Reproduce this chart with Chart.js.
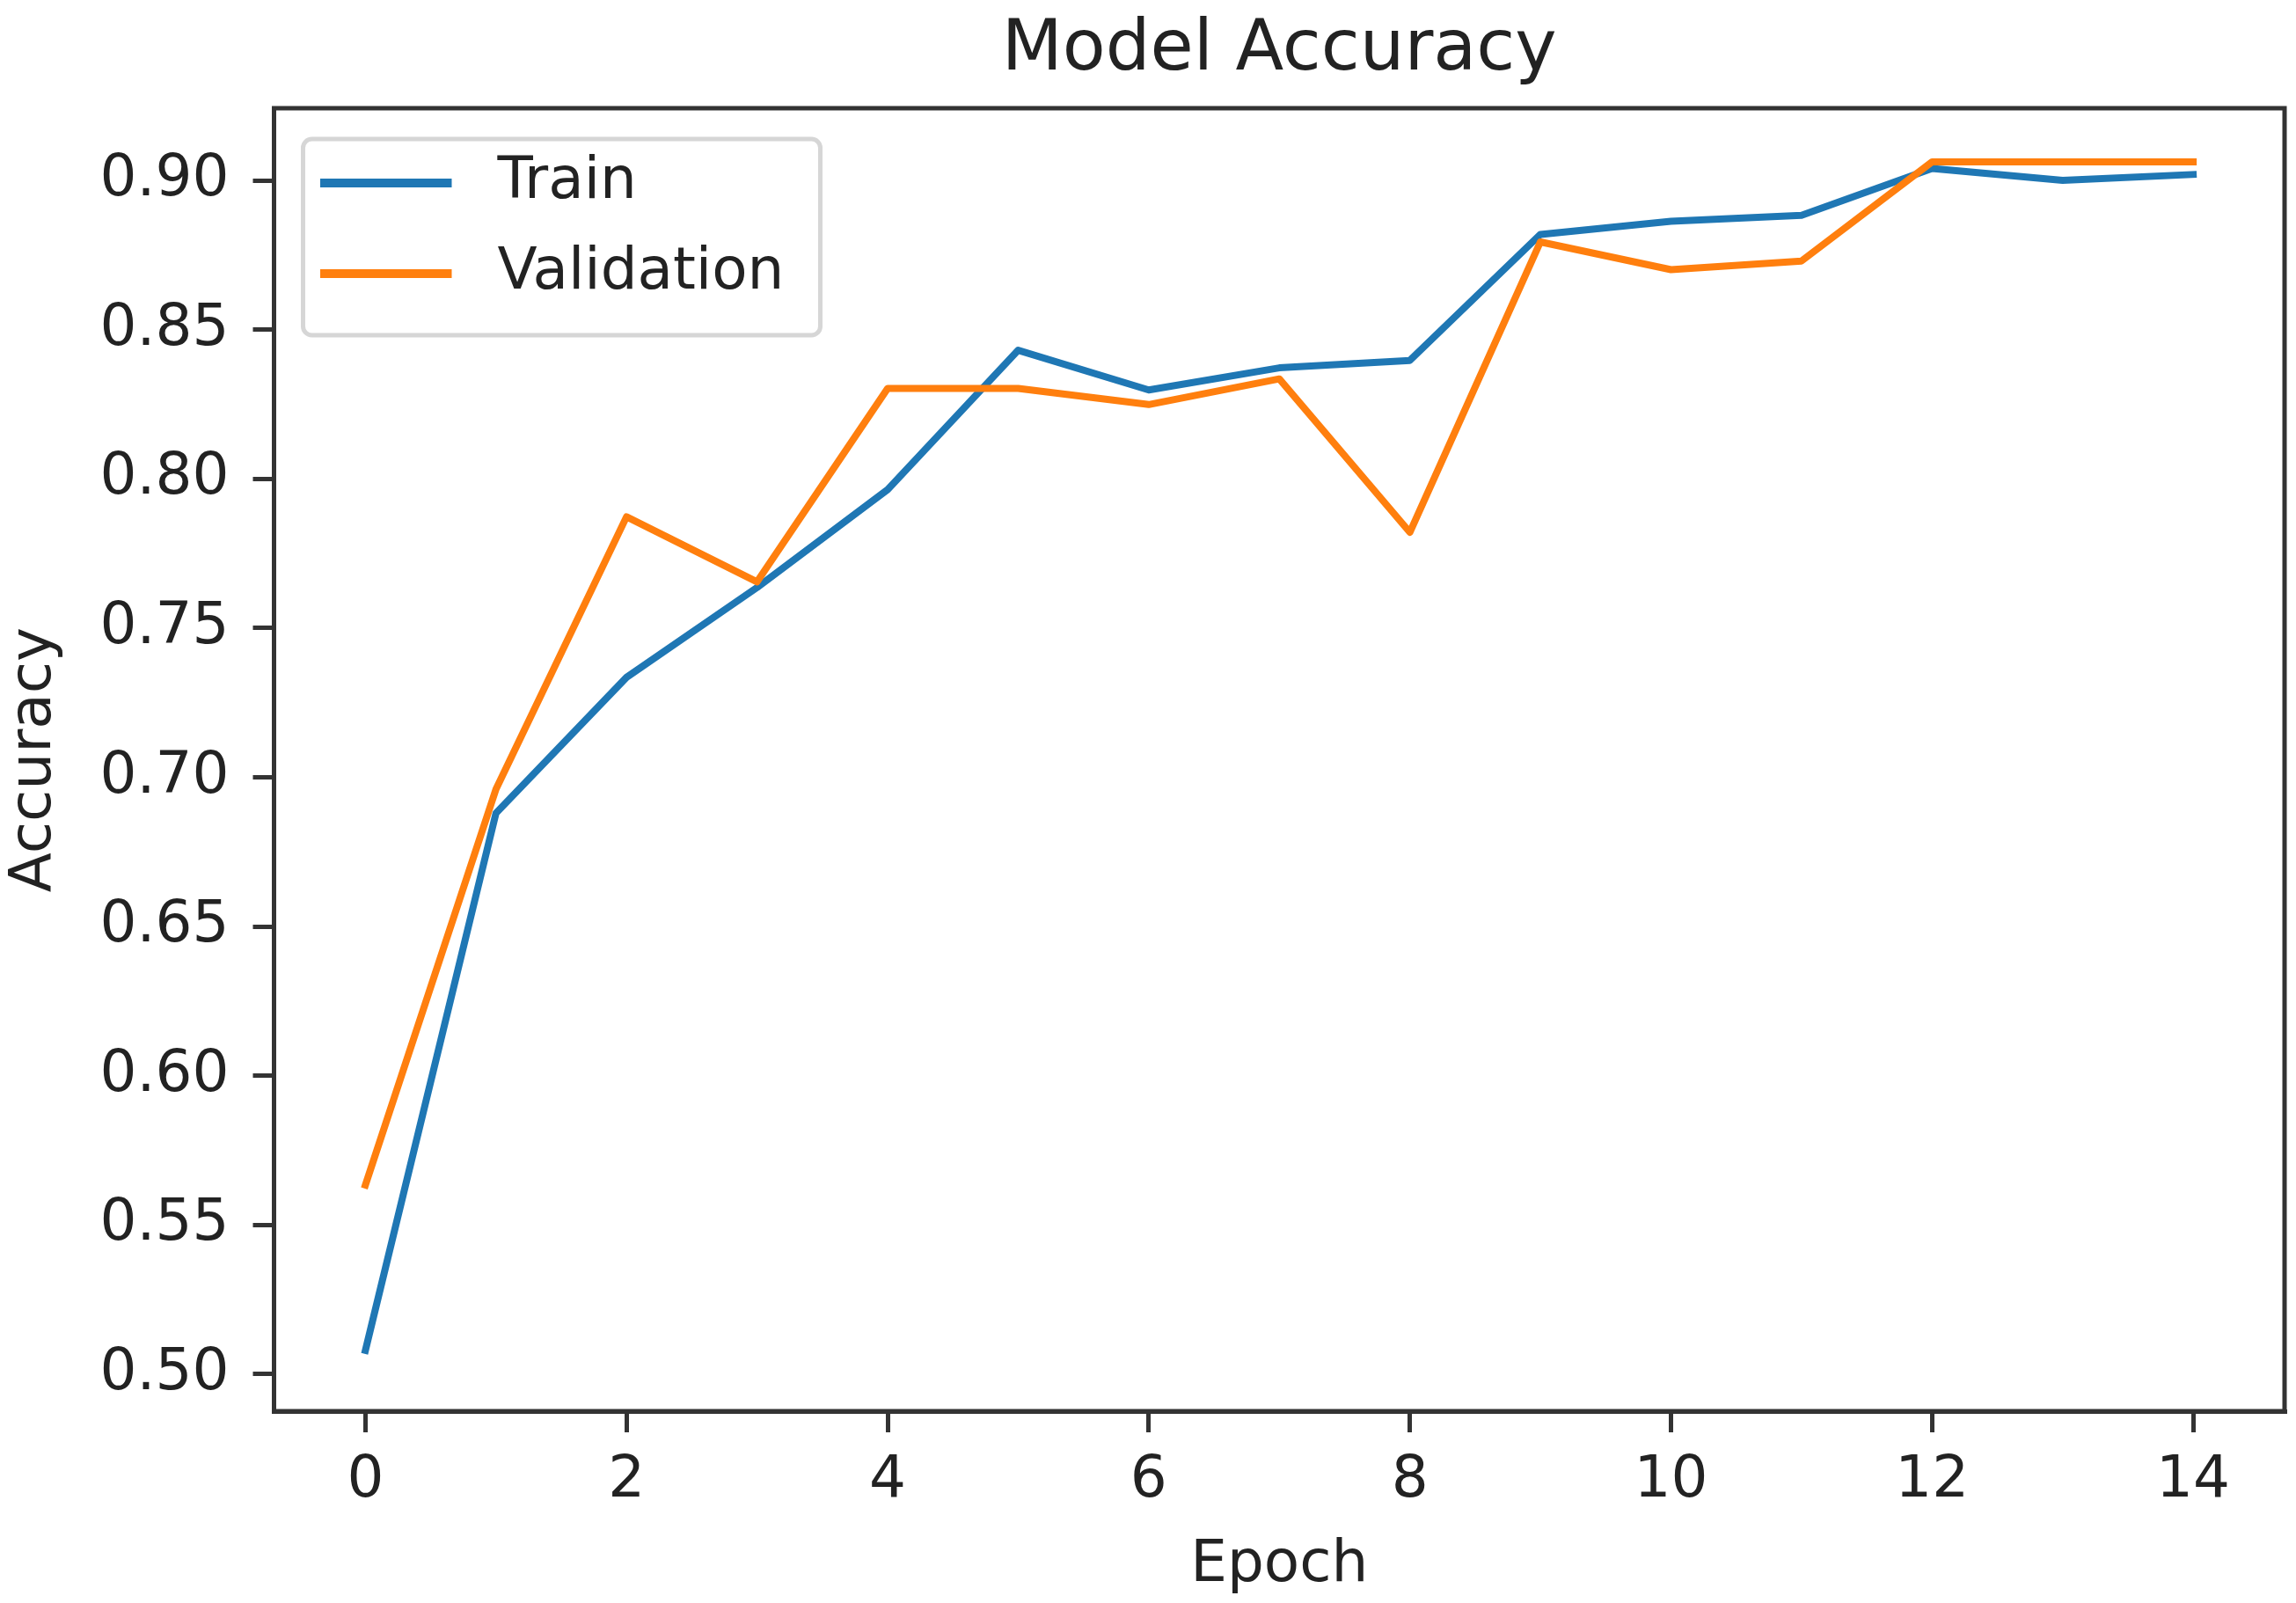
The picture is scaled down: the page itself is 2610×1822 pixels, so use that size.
<!DOCTYPE html>
<html>
<head>
<meta charset="utf-8">
<script src="https://cdn.jsdelivr.net/npm/chart.js@4.4.1/dist/chart.umd.min.js"></script>
<style>
  html, body { margin: 0; padding: 0; background: #ffffff; }
  #wrap { width: 2610px; height: 1822px; }
</style>
</head>
<body>
<div id="wrap"><canvas id="chart" width="2610" height="1822"></canvas></div>
<script>
// ---- data ----
const epochs = [0, 1, 2, 3, 4, 5, 6, 7, 8, 9, 10, 11, 12, 13, 14];
const trainAcc = [0.508, 0.688, 0.7335, 0.7636, 0.7964, 0.8431, 0.8298, 0.8372, 0.8397, 0.8819, 0.8863, 0.8883, 0.9040, 0.9000, 0.9020];
const valAcc   = [0.5634, 0.696, 0.7873, 0.7655, 0.8303, 0.8303, 0.8249, 0.8335, 0.7821, 0.8794, 0.8701, 0.8730, 0.9062, 0.9062, 0.9062];
const seriesNames = ['Train', 'Validation'];
const xTickValues = [0, 2, 4, 6, 8, 10, 12, 14];
const yTickValues = [0.50, 0.55, 0.60, 0.65, 0.70, 0.75, 0.80, 0.85, 0.90];
const chartTitle = 'Model Accuracy';
const xTitle = 'Epoch';
const yTitle = 'Accuracy';

// ---- styling ----
const FONT = 'DejaVu Sans';
const TEXT = '#222222';
const AXIS = '#333333';
const COLORS = ['#1f77b4', '#ff7f0e'];

Chart.defaults.font.family = FONT;
Chart.defaults.color = TEXT;

function legendLine(color) {
  const c = document.createElement('canvas');
  c.width = 169; c.height = 10;
  const g = c.getContext('2d');
  g.fillStyle = color;
  g.fillRect(0, 0, 150, 10);
  return c;
}

const legendPlacement = {
  id: 'legendPlacement',
  afterLayout(chart) {
    const lg = chart.legend, a = chart.chartArea;
    if (!lg) return;
    lg.left = a.left + 15;
    lg.top = a.top + 15;
    lg.right = a.right;
    lg.bottom = a.bottom;
  }
};

function roundRect(ctx, x, y, w, h, r) {
  ctx.beginPath();
  ctx.moveTo(x + r, y);
  ctx.lineTo(x + w - r, y);
  ctx.arcTo(x + w, y, x + w, y + r, r);
  ctx.lineTo(x + w, y + h - r);
  ctx.arcTo(x + w, y + h, x + w - r, y + h, r);
  ctx.lineTo(x + r, y + h);
  ctx.arcTo(x, y + h, x, y + h - r, r);
  ctx.lineTo(x, y + r);
  ctx.arcTo(x, y, x + r, y, r);
  ctx.closePath();
}

const legendFrame = {
  id: 'legendFrame',
  beforeDraw(chart) {
    const a = chart.chartArea, ctx = chart.ctx;
    ctx.save();
    roundRect(ctx, a.left + 33, a.top + 35, 588, 223, 10);
    ctx.fillStyle = 'rgba(255,255,255,0.8)';
    ctx.fill();
    ctx.lineWidth = 5;
    ctx.strokeStyle = '#d6d6d6';
    ctx.stroke();
    ctx.restore();
  }
};

const axesFrame = {
  id: 'axesFrame',
  afterDraw(chart) {
    const a = chart.chartArea, ctx = chart.ctx;
    ctx.save();
    ctx.lineWidth = 5;
    ctx.strokeStyle = AXIS;
    ctx.strokeRect(a.left, a.top, a.right - a.left, a.bottom - a.top);
    ctx.restore();
  }
};

const datasets = [trainAcc, valAcc].map((vals, i) => ({
  label: seriesNames[i],
  data: epochs.map((e, j) => ({ x: e, y: vals[j] })),
  borderColor: COLORS[i],
  backgroundColor: COLORS[i],
  borderWidth: 8,
  pointRadius: 0,
  pointHoverRadius: 0,
  tension: 0,
  fill: false,
  borderJoinStyle: 'round',
  borderCapStyle: 'square',
  order: i === 0 ? 1 : 0
}));

new Chart(document.getElementById('chart'), {
  type: 'line',
  data: { datasets },
  options: {
    responsive: false,
    animation: false,
    devicePixelRatio: 1,
    layout: { padding: { left: 0, right: 13, top: 0, bottom: 0 } },
    scales: {
      x: {
        type: 'linear',
        min: -0.7,
        max: 14.7,
        afterBuildTicks: (s) => { s.ticks = xTickValues.map(v => ({ value: v })); },
        afterFit: (s) => { s.height = 218; },
        ticks: {
          font: { size: 66 }, color: TEXT, padding: 16,
          autoSkip: false, maxRotation: 0,
          callback: (v) => String(v)
        },
        grid: { drawOnChartArea: false, drawTicks: true, tickLength: 24, tickWidth: 5, tickColor: AXIS, lineWidth: 5, color: AXIS },
        border: { display: true, color: AXIS, width: 5 },
        title: { display: true, text: xTitle, font: { size: 66 }, color: TEXT, padding: { top: 0, bottom: 3 } }
      },
      y: {
        type: 'linear',
        min: 0.4876,
        max: 0.9242,
        afterBuildTicks: (s) => { s.ticks = yTickValues.map(v => ({ value: v })); },
        afterFit: (s) => { s.width = 311.5; },
        ticks: {
          font: { size: 66 }, color: TEXT, padding: 27,
          autoSkip: false,
          callback: (v) => Number(v).toFixed(2)
        },
        grid: { drawOnChartArea: false, drawTicks: true, tickLength: 24, tickWidth: 5, tickColor: AXIS, lineWidth: 5, color: AXIS },
        border: { display: true, color: AXIS, width: 5 },
        title: { display: true, text: yTitle, font: { size: 66 }, color: TEXT, padding: { top: 0, bottom: 0 } }
      }
    },
    plugins: {
      title: {
        display: true, text: chartTitle, fullSize: false,
        font: { size: 80, weight: 'normal' }, color: TEXT,
        padding: { top: 10, bottom: 17 }
      },
      legend: {
        position: 'chartArea',
        align: 'start',
        labels: {
          font: { size: 66 },
          color: TEXT,
          usePointStyle: true,
          pointStyleWidth: 169,
          padding: 37,
          generateLabels: (chart) => chart.data.datasets.map((ds, i) => ({
            text: ds.label,
            fillStyle: ds.borderColor,
            strokeStyle: ds.borderColor,
            lineWidth: 0,
            pointStyle: legendLine(ds.borderColor),
            fontColor: TEXT,
            hidden: false,
            datasetIndex: i
          }))
        }
      },
      tooltip: { enabled: false }
    }
  },
  plugins: [legendPlacement, legendFrame, axesFrame]
});
</script>
</body>
</html>
